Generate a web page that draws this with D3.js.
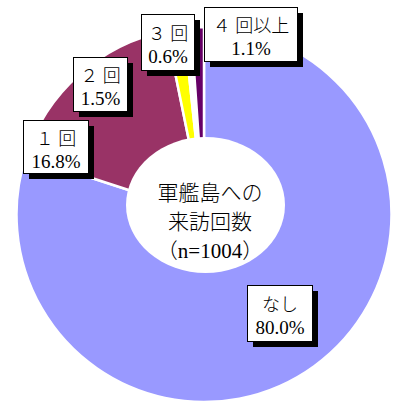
<!DOCTYPE html>
<html>
<head>
<meta charset="utf-8">
<script src="https://cdn.jsdelivr.net/npm/d3@7"></script>
<style>
  body { margin: 0; background: #fff; }
  text { font-family: "Liberation Serif", "Noto Sans CJK JP", serif; font-weight: 300; fill: #000; }
</style>
</head>
<body>
<div id="chart"></div>
<script>
// visits to Gunkanjima (n=1004)
var categories = ["なし", "１ 回", "２ 回", "３ 回", "４ 回以上"];
var shares = [80.0, 16.8, 1.5, 0.6, 1.1];
var centerLines = ["軍艦島への", "来訪回数", "（n=1004）"];

var colors = ["#9999ff", "#993366", "#ffff00", "#ffffff", "#660066"];

// label box placement (x, y, w, h), same order as categories
var boxes = [
  [247, 285, 65, 56],
  [23, 120, 65, 53],
  [73, 57, 54, 54],
  [141, 14, 53, 56],
  [204, 7, 93, 54]
];

var width = 395, height = 403;
var cx = 204, cy = 214.5, radius = 187.5;

var svg = d3.select("#chart")
  .append("svg")
  .attr("width", width)
  .attr("height", height);

var data = categories.map(function(c, i) {
  return { name: c, value: shares[i], color: colors[i], box: boxes[i] };
});

var pie = d3.pie()
  .sort(null)
  .value(function(d) { return d.value; });

var arc = d3.arc()
  .innerRadius(0)
  .outerRadius(radius);

var g = svg.append("g")
  .attr("transform", "translate(" + cx + "," + cy + ")");

g.selectAll("path")
  .data(pie(data))
  .enter()
  .append("path")
  .attr("d", arc)
  .attr("fill", function(d) { return d.data.color; })
  .attr("stroke", "#fff")
  .attr("stroke-width", 2.5)
  .attr("stroke-linejoin", "round");

// white ellipse with the title in the middle
svg.append("ellipse")
  .attr("cx", 205.5)
  .attr("cy", 205)
  .attr("rx", 79.5)
  .attr("ry", 68)
  .attr("fill", "#fff");

svg.append("g")
  .selectAll("text")
  .data(centerLines)
  .enter()
  .append("text")
  .attr("x", 210)
  .attr("y", function(d, i) { return 200 + i * 29; })
  .attr("text-anchor", "middle")
  .style("font-size", "21px")
  .text(function(d) { return d; });

// data labels: white box, black border, black drop shadow
var fmt = d3.format(".1f");
var labels = svg.append("g")
  .selectAll("g")
  .data(data)
  .enter()
  .append("g");

labels.append("rect")
  .attr("x", function(d) { return d.box[0] + 6; })
  .attr("y", function(d) { return d.box[1] + 6; })
  .attr("width", function(d) { return d.box[2]; })
  .attr("height", function(d) { return d.box[3]; })
  .attr("fill", "#000");

labels.append("rect")
  .attr("x", function(d) { return d.box[0] + 0.5; })
  .attr("y", function(d) { return d.box[1] + 0.5; })
  .attr("width", function(d) { return d.box[2]; })
  .attr("height", function(d) { return d.box[3]; })
  .attr("fill", "#fff")
  .attr("stroke", "#000")
  .attr("stroke-width", 1);

labels.append("text")
  .attr("x", function(d) { return d.box[0] + d.box[2] / 2 + 0.5; })
  .attr("y", function(d) { return d.box[1] + d.box[3] / 2 - 2; })
  .attr("text-anchor", "middle")
  .style("font-size", "18px")
  .text(function(d) { return d.name; });

labels.append("text")
  .attr("x", function(d) { return d.box[0] + d.box[2] / 2 + 0.5; })
  .attr("y", function(d) { return d.box[1] + d.box[3] / 2 + 21; })
  .attr("text-anchor", "middle")
  .style("font-size", "19px")
  .text(function(d) { return fmt(d.value) + "%"; });
</script>
</body>
</html>
